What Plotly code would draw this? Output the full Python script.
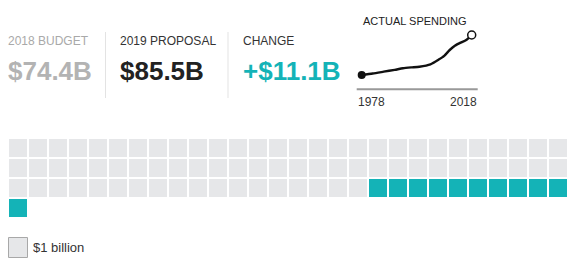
import plotly.graph_objects as go

W, H = 571, 263

# ---- data ----
budget_2018 = 74.4
proposal_2019 = 85.5
change = 11.1
waffle_gray = 74      # squares for 2018 budget ($1B each)
waffle_teal = 11      # squares for increase
waffle_cols = 28

spend_years = [1978, 1982, 1986, 1990, 1993, 1996, 1999, 2003, 2006, 2008, 2010, 2012, 2014, 2016, 2018]
spend_values = [20.0, 22.0, 24.5, 27.0, 29.1, 30.3, 31.3, 34.6, 41.0, 46.0, 54.0, 60.0, 64.0, 67.6, 74.4]

header_labels = ["2018 BUDGET", "2019 PROPOSAL", "CHANGE"]
header_values = ["$74.4B", "$85.5B", "+$11.1B"]

GRAY = "#e6e7e9"
TEAL = "#14b3b7"
FONT = "Liberation Sans, Arial, sans-serif"

def px(x):
    return x / W

def py(y):
    return 1 - y / H

# ---- waffle positions from counts ----
colors = [GRAY] * waffle_gray + [TEAL] * waffle_teal
cols = [i % waffle_cols for i in range(len(colors))]
rows = [i // waffle_cols for i in range(len(colors))]

fig = go.Figure()
fig.add_trace(go.Scatter(
    x=cols, y=rows, mode="markers",
    marker=dict(symbol="square", size=18, color=colors, line=dict(width=0)),
    hoverinfo="skip", showlegend=False, xaxis="x", yaxis="y"))

# sparkline
fig.add_trace(go.Scatter(
    x=spend_years, y=spend_values, mode="lines",
    line=dict(color="#111111", width=2.4, shape="spline", smoothing=0.6),
    hoverinfo="skip", showlegend=False, xaxis="x2", yaxis="y2", cliponaxis=False))
fig.add_trace(go.Scatter(
    x=[spend_years[0]], y=[spend_values[0]], mode="markers",
    marker=dict(size=8, color="#111111"),
    hoverinfo="skip", showlegend=False, xaxis="x2", yaxis="y2", cliponaxis=False))
fig.add_trace(go.Scatter(
    x=[spend_years[-1]], y=[spend_values[-1]], mode="markers",
    marker=dict(size=8, color="white", line=dict(color="#111111", width=1.5)),
    hoverinfo="skip", showlegend=False, xaxis="x2", yaxis="y2", cliponaxis=False))

# waffle axis: cell c center at pixel 18 + 20c ; row r center at 148 + 20r
fig.update_layout(
    xaxis=dict(domain=[0, 1], range=[(0 - 18) / 20, (W - 18) / 20], visible=False, fixedrange=True),
    yaxis=dict(domain=[0, 1], range=[(H - 148) / 20, (0 - 148) / 20], visible=False, fixedrange=True),
    xaxis2=dict(domain=[px(361.7), px(471.7)], range=[1978, 2018], visible=False, anchor="y2"),
    yaxis2=dict(domain=[py(80), py(30)], range=[13.2, 81.2], visible=False, anchor="x2"),
)

shapes = []
# dividers
for xd in [105.5, 228]:
    shapes.append(dict(type="line", xref="paper", yref="paper",
                       x0=px(xd), x1=px(xd), y0=py(32), y1=py(98),
                       line=dict(color="#e3e3e3", width=1)))
# sparkline baseline
shapes.append(dict(type="line", xref="paper", yref="paper",
                   x0=px(356.7), x1=px(477.7), y0=py(89.3), y1=py(89.3),
                   line=dict(color="#999999", width=2)))
# legend key
shapes.append(dict(type="rect", xref="paper", yref="paper",
                   x0=px(8.5), x1=px(27.5), y0=py(257.5), y1=py(237.5),
                   fillcolor=GRAY, line=dict(color="#a8a8a8", width=1)))

ann = []
label_x = [6, 118, 241]
label_colors = ["#a9a9a9", "#333333", "#333333"]
value_colors = ["#b3b3b3", "#222222", TEAL]
for lx, lab, val, lc, vc in zip(label_x, header_labels, header_values, label_colors, value_colors):
    ann.append(dict(text=lab, x=px(lx), y=py(41), xref="paper", yref="paper",
                    xanchor="left", yanchor="middle", showarrow=False,
                    font=dict(family=FONT, size=12, color=lc)))
    ann.append(dict(text="<b>%s</b>" % val, x=px(lx), y=py(71), xref="paper", yref="paper",
                    xanchor="left", yanchor="middle", showarrow=False,
                    font=dict(family=FONT, size=26, color=vc)))

ann.append(dict(text="ACTUAL SPENDING", x=px(414.5), y=py(20.5), xref="paper", yref="paper",
                xanchor="center", yanchor="middle", showarrow=False,
                font=dict(family=FONT, size=11, color="#222222")))
ann.append(dict(text=str(spend_years[0]), x=px(355.5), y=py(101.5), xref="paper", yref="paper",
                xanchor="left", yanchor="middle", showarrow=False,
                font=dict(family=FONT, size=12, color="#333333")))
ann.append(dict(text=str(spend_years[-1]), x=px(479), y=py(101.5), xref="paper", yref="paper",
                xanchor="right", yanchor="middle", showarrow=False,
                font=dict(family=FONT, size=12, color="#333333")))
ann.append(dict(text="$1 billion", x=px(30.5), y=py(247), xref="paper", yref="paper",
                xanchor="left", yanchor="middle", showarrow=False,
                font=dict(family=FONT, size=13, color="#333333")))

fig.update_layout(
    width=W, height=H,
    margin=dict(l=0, r=0, t=0, b=0),
    paper_bgcolor="white", plot_bgcolor="white",
    shapes=shapes, annotations=ann,
    showlegend=False,
)

fig.write_html("out.html", include_plotlyjs=True, config={"displayModeBar": False})
